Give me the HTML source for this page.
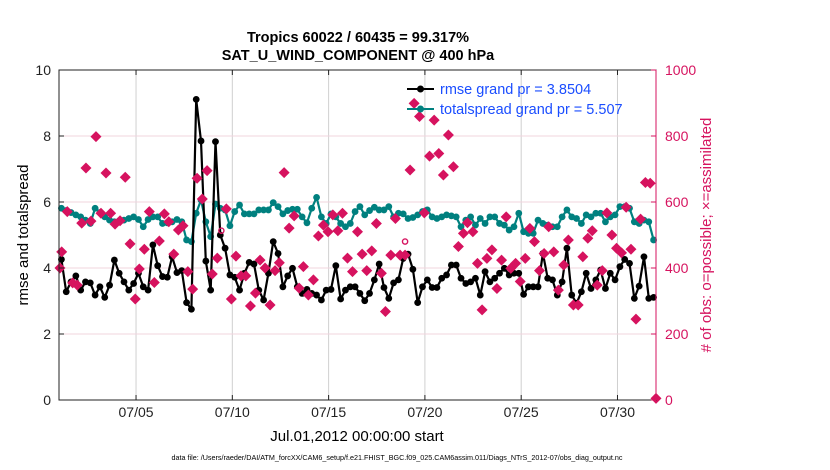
<!DOCTYPE html>
<html><head><meta charset="utf-8"><style>
body{margin:0;background:#fff;}
svg{display:block;font-family:"Liberation Sans",Arial,sans-serif;}
</style></head><body>
<svg id="chart" width="830" height="470" viewBox="0 0 830 470">
<rect x="0" y="0" width="830" height="470" fill="#fff"/>
<text x="358" y="42" text-anchor="middle" font-size="14.5" font-weight="bold">Tropics 60022 / 60435 = 99.317%</text>
<text x="358" y="60" text-anchor="middle" font-size="14.5" font-weight="bold">SAT_U_WIND_COMPONENT @ 400 hPa</text>
<g id="grid"></g>
<g id="marks"></g>
<rect x="59" y="70" width="597" height="330" fill="none" stroke="#222" stroke-width="1"/>
<line x1="656" y1="70" x2="656" y2="400" stroke="#d6135f" stroke-width="1"/>
<g id="axes"></g>
<text transform="translate(28,235) rotate(-90)" text-anchor="middle" font-size="15">rmse and totalspread</text>
<text transform="translate(711,235) rotate(-90)" text-anchor="middle" font-size="15" fill="#d6135f"># of obs: o=possible; ×=assimilated</text>
<text x="357" y="441" text-anchor="middle" font-size="15">Jul.01,2012 00:00:00 start</text>
<text x="397" y="460" text-anchor="middle" font-size="7.2">data file: /Users/raeder/DAI/ATM_forcXX/CAM6_setup/f.e21.FHIST_BGC.f09_025.CAM6assim.011/Diags_NTrS_2012-07/obs_diag_output.nc</text>
<g id="legend">
<line x1="407" y1="89" x2="434" y2="89" stroke="#000" stroke-width="2"/>
<circle cx="420.5" cy="89" r="3.5" fill="#000"/>
<text x="440" y="94" font-size="14.5" fill="#1a4dff">rmse grand pr = 3.8504</text>
<line x1="407" y1="109" x2="434" y2="109" stroke="#00807f" stroke-width="2"/>
<circle cx="420.5" cy="109" r="3.5" fill="#00807f"/>
<text x="440" y="114" font-size="14.5" fill="#1a4dff">totalspread grand pr = 5.507</text>
</g>
</svg>
<script>
const rmse=[4.26,3.28,3.58,3.76,3.33,3.58,3.55,3.18,3.43,3.11,3.48,4.24,3.84,3.58,3.33,3.53,3.84,3.43,3.33,4.70,4.07,3.74,3.72,4.34,3.86,3.92,2.95,2.75,9.11,7.85,4.21,3.33,7.83,5.00,4.6,3.79,3.72,3.33,3.84,4.17,4.12,3.33,3.03,
3.84,4.80,4.44,3.43,3.76,3.99,3.43,3.23,3.35,3.23,3.18,3.03,3.33,3.35,4.07,3.06,3.33,3.43,3.43,3.23,3.01,3.23,3.64,4.12,3.41,3.08,3.55,3.64,4.29,4.42,3.96,2.95,3.43,3.64,3.41,3.41,3.69,3.79,4.09,4.09,3.69,3.53,
3.58,3.69,3.18,3.89,3.58,3.69,3.84,3.99,3.79,3.84,3.84,3.20,3.43,3.43,3.43,4.44,3.69,3.64,3.18,3.58,4.60,3.18,2.93,3.28,3.84,3.38,3.64,3.94,3.38,3.84,3.64,4.04,4.26,4.14,3.08,3.45,4.34,3.08,3.11];
const spread=[5.81,5.74,5.68,5.61,5.55,5.45,5.35,5.81,5.68,5.55,5.45,5.40,5.43,5.45,5.50,5.55,5.47,5.25,5.47,5.55,5.55,5.35,5.37,5.40,5.47,5.40,4.85,4.80,5.66,6.06,5.40,4.95,5.94,5.81,5.76,5.28,5.71,5.91,5.64,5.64,5.64,5.76,5.76,
5.76,5.98,5.86,5.64,5.74,5.78,5.78,5.55,5.37,5.81,6.14,5.55,5.35,5.64,5.55,5.35,5.25,5.35,5.71,5.86,5.61,5.74,5.84,5.76,5.76,5.86,5.55,5.66,5.64,5.50,5.53,5.61,5.71,5.76,5.55,5.50,5.55,5.61,5.58,5.55,5.25,5.45,
5.55,5.30,5.50,5.35,5.55,5.55,5.35,5.30,5.15,5.25,5.66,5.10,5.05,5.05,5.45,5.35,5.30,5.25,5.25,5.55,5.76,5.55,5.50,5.35,5.61,5.55,5.66,5.66,5.40,5.55,5.61,5.86,5.86,5.81,5.40,5.35,5.45,5.40,4.85];
const obsDay=[0.05,0.14,0.43,0.71,0.95,1.18,1.40,1.66,1.92,2.18,2.44,2.68,2.91,3.17,3.44,3.69,3.96,4.17,4.43,4.69,4.95,5.21,5.47,5.70,5.96,6.20,6.44,6.69,6.94,7.17,7.44,7.69,7.96,8.22,8.69,8.95,9.19,9.45,9.70,9.94,10.2,10.44,10.7,
10.96,11.22,11.44,11.69,11.95,12.21,12.47,12.69,12.95,13.21,13.47,13.73,13.97,14.22,14.48,14.72,14.98,15.24,15.5,15.74,15.98,16.24,16.48,16.74,16.95,17.23,17.47,17.71,17.97,18.23,18.44,18.72,18.97,19.24,19.48,19.72,19.96,20.22,20.48,20.74,21.0,21.21,
21.49,21.73,21.97,22.22,22.48,22.74,22.98,23.22,23.46,23.71,23.95,24.21,24.45,24.69,24.95,25.19,25.43,25.69,25.93,26.21,26.45,26.71,26.96,27.2,27.46,27.69,27.95,28.21,28.45,28.71,28.95,29.21,29.45,29.70,29.96,30.20,30.45,30.70,31.0];
const obsCount=[400,449,571,355,348,536,703,542,798,566,688,566,533,543,675,473,306,397,457,571,356,482,564,540,442,515,528,389,336,672,609,695,382,430,579,306,436,376,376,285,324,424,400,
288,392,416,689,521,558,339,404,318,364,497,530,510,561,513,566,430,389,510,442,392,452,535,384,268,439,550,439,439,697,899,859,567,739,848,747,682,803,707,465,505,537,
510,414,273,429,455,338,424,555,399,414,359,429,520,480,392,444,525,449,333,409,485,288,288,434,490,513,348,392,567,500,460,446,584,457,245,548,659,657,5];
const possDay=[8.43,17.97];
const possCount=[498,465];
const xTickDays=[4,9,14,19,24,29];
const xTickLabels=["07/05","07/10","07/15","07/20","07/25","07/30"];
const yTicks=[0,2,4,6,8,10];
const y2Ticks=[0,200,400,600,800,1000];

const NS="http://www.w3.org/2000/svg";
const X0=59,X1=656,Y0=400,Y1=70,DAYS=31;
const xs=d=>X0+(d/DAYS)*(X1-X0);
const ys=v=>Y0-(v/10)*(Y0-Y1);
const y2s=v=>Y0-(v/1000)*(Y0-Y1);
function mk(tag,attrs,parent){const e=document.createElementNS(NS,tag);for(const k in attrs)e.setAttribute(k,attrs[k]);parent.appendChild(e);return e;}
const grid=document.getElementById('grid'),marks=document.getElementById('marks'),axes=document.getElementById('axes');

xTickDays.forEach((d,i)=>{
  const gl=mk('line',{x1:xs(d),x2:xs(d),y1:Y1,y2:Y0,stroke:'#d0d0d0','stroke-width':1},grid);
  
  
  const t1=mk('line',{x1:xs(d),x2:xs(d),y1:Y0,y2:Y0-5,stroke:'#222'},axes);
  
  
  const t2=mk('line',{x1:xs(d),x2:xs(d),y1:Y1,y2:Y1+5,stroke:'#222'},axes);
  
  
  const lb=mk('text',{x:xs(d),y:Y0+17,'text-anchor':'middle','font-size':14,fill:'#222'},axes);
  lb.textContent=xTickLabels[i];
  
  
});
y2Ticks.forEach(v=>{
  if(v>0&&v<1000){
    const gl=mk('line',{x1:X0,x2:X1,y1:y2s(v),y2:y2s(v),stroke:'#f0d4de','stroke-width':1},grid);
    
    
  }
  const tk=mk('line',{x1:X1,x2:X1-5,y1:y2s(v),y2:y2s(v),stroke:'#d6135f'},axes);
  
  
  const lb=mk('text',{x:X1+9,y:y2s(v)+5,'font-size':14,fill:'#d6135f'},axes);
  lb.textContent=v;
  
  
});
yTicks.forEach(v=>{
  const tk=mk('line',{x1:X0,x2:X0+5,y1:ys(v),y2:ys(v),stroke:'#222'},axes);
  
  
  const lb=mk('text',{x:X0-8,y:ys(v)+5,'text-anchor':'end','font-size':14,fill:'#222'},axes);
  lb.textContent=v;
  
  
});

const tAt=i=>(i+0.5)/4;
function series(vals,color,name){
  const pts=vals.map((v,i)=>xs(tAt(i)).toFixed(1)+','+ys(v).toFixed(1)).join(' ');
  const pl=mk('polyline',{points:pts,fill:'none',stroke:color,'stroke-width':2.2,'stroke-linejoin':'round'},marks);
  
  
  vals.forEach((v,i)=>{
    const c=mk('circle',{cx:xs(tAt(i)),cy:ys(v),r:3.4,fill:color},marks);
    
    
  });
}
series(spread,'#00807f','totalspread');
series(rmse,'#000000','rmse');

obsDay.forEach((d,i)=>{
  const cx=xs(d),cy=y2s(obsCount[i]);
  const g=mk('g',{fill:'#d6135f'},marks);
  
  
  mk('polygon',{points:`${cx},${cy-5.5} ${cx+5.5},${cy} ${cx},${cy+5.5} ${cx-5.5},${cy}`},g);
  mk('rect',{x:cx-4,y:cy-1.3,width:8,height:2.6},g);
  mk('rect',{x:cx-1.3,y:cy-4,width:2.6,height:8},g);
});
possDay.forEach((d,i)=>{
  const c=mk('circle',{cx:xs(d),cy:y2s(possCount[i])-5,r:2.6,fill:'none',stroke:'#d6135f','stroke-width':1.4},marks);
  
  
});
</script>
</body></html>
